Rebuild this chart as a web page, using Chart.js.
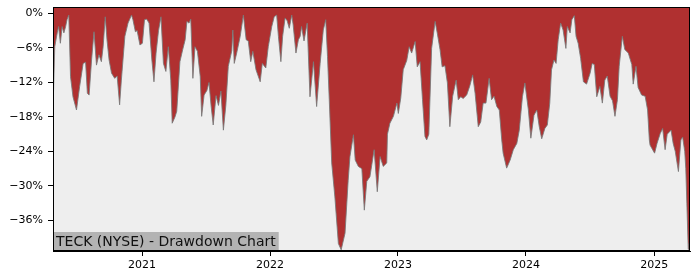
<!DOCTYPE html>
<html>
<head>
<meta charset="utf-8">
<script src="https://cdn.jsdelivr.net/npm/chart.js@4"></script>
<style>
  html, body { margin: 0; padding: 0; background: #fff; }
  #wrap { width: 700px; height: 280px; }
</style>
</head>
<body>
<div id="wrap"><canvas id="ddChart" width="700" height="280"></canvas></div>
<script>
// Drawdown data
const dates = [
  "2020-04-22","2020-04-27","2020-05-04","2020-05-08","2020-05-13","2020-05-18","2020-05-23","2020-05-28",
  "2020-06-01","2020-06-06","2020-06-11","2020-06-18","2020-06-28","2020-07-07","2020-07-17","2020-07-24",
  "2020-07-29","2020-08-03","2020-08-10","2020-08-17","2020-08-24","2020-08-31","2020-09-07","2020-09-12",
  "2020-09-18","2020-09-23","2020-09-29","2020-10-06","2020-10-15","2020-10-22","2020-10-29","2020-11-03",
  "2020-11-13","2020-11-22","2020-12-02","2020-12-06","2020-12-13","2020-12-18","2020-12-26",
  "2021-01-02","2021-01-08","2021-01-14","2021-01-21","2021-01-29","2021-02-04","2021-02-10","2021-02-17",
  "2021-02-24","2021-03-03","2021-03-10","2021-03-17","2021-03-24","2021-03-28","2021-04-05","2021-04-10",
  "2021-04-19","2021-04-27","2021-05-04","2021-05-09","2021-05-15","2021-05-20","2021-05-26","2021-06-01",
  "2021-06-08","2021-06-16","2021-06-20","2021-06-27","2021-07-05","2021-07-11","2021-07-17","2021-07-23",
  "2021-07-31","2021-08-07","2021-08-14","2021-08-21","2021-08-28","2021-09-04","2021-09-14","2021-09-17",
  "2021-09-21","2021-09-28","2021-10-08","2021-10-17","2021-10-25","2021-10-31","2021-11-07","2021-11-13",
  "2021-11-22","2021-12-04","2021-12-10","2021-12-20","2021-12-27",
  "2022-01-06","2022-01-13","2022-01-20","2022-01-25","2022-02-01","2022-02-06","2022-02-13","2022-02-19",
  "2022-02-25","2022-03-04","2022-03-08","2022-03-16","2022-03-23","2022-03-28","2022-04-01","2022-04-08",
  "2022-04-17","2022-04-25","2022-05-05","2022-05-14","2022-05-24","2022-06-02","2022-06-09","2022-06-14",
  "2022-06-19","2022-06-26","2022-07-05","2022-07-15","2022-07-23","2022-08-03","2022-08-12","2022-08-17",
  "2022-08-27","2022-09-01","2022-09-10","2022-09-20","2022-09-27","2022-10-04","2022-10-13","2022-10-25",
  "2022-11-03","2022-11-11","2022-11-20","2022-11-30","2022-12-02","2022-12-09","2022-12-19","2022-12-29",
  "2023-01-02","2023-01-09","2023-01-16","2023-01-26","2023-02-02","2023-02-09","2023-02-19","2023-02-25",
  "2023-03-05","2023-03-12","2023-03-19","2023-03-24","2023-03-30","2023-04-07","2023-04-17","2023-04-23",
  "2023-05-01","2023-05-07","2023-05-15","2023-05-22","2023-05-29","2023-06-06","2023-06-16","2023-06-22",
  "2023-06-29","2023-07-06","2023-07-16","2023-07-25","2023-08-02","2023-08-09","2023-08-18","2023-08-25",
  "2023-09-01","2023-09-09","2023-09-18","2023-09-25","2023-10-02","2023-10-10","2023-10-17","2023-10-24",
  "2023-10-28","2023-11-07","2023-11-17","2023-11-26","2023-12-06","2023-12-13","2023-12-22","2023-12-29",
  "2024-01-08","2024-01-15","2024-01-24","2024-02-01","2024-02-08","2024-02-15","2024-02-24","2024-03-02",
  "2024-03-09","2024-03-14","2024-03-21","2024-03-27","2024-04-02","2024-04-09","2024-04-16","2024-04-24",
  "2024-04-28","2024-05-06","2024-05-11","2024-05-18","2024-05-23","2024-05-29","2024-06-05","2024-06-13",
  "2024-06-22","2024-07-02","2024-07-08","2024-07-14","2024-07-21","2024-07-30","2024-08-06","2024-08-13",
  "2024-08-20","2024-08-28","2024-09-04","2024-09-11","2024-09-18","2024-09-23","2024-10-02","2024-10-09",
  "2024-10-19","2024-10-29","2024-11-02","2024-11-10","2024-11-16","2024-11-26","2024-12-06","2024-12-13",
  "2024-12-18","2024-12-20",
  "2025-01-02","2025-01-09","2025-01-18","2025-01-25","2025-02-01","2025-02-07","2025-02-18","2025-02-24",
  "2025-03-02","2025-03-11","2025-03-18","2025-03-23","2025-03-29","2025-04-01","2025-04-04","2025-04-08",
  "2025-04-10","2025-04-12"
];

const drawdown = [
  -16.8, -5.8, -3.4, -2.3, -5.2, -2.3, -3.4, -2.3,
  -1.1, -0.3, -11.0, -14.5, -16.8, -12.7, -8.7, -8.5,
  -13.9, -14.2, -8.1, -3.2, -9.0, -7.2, -8.4, -5.8,
  -0.6, -4.6, -8.1, -10.4, -11.3, -10.9, -15.9, -11.6,
  -4.0, -1.7, -0.3, -1.1, -3.2, -3.0, -5.5,
  -5.2, -1.1, -1.0, -1.7, -8.1, -11.9, -6.9, -3.0,
  -0.6, -8.7, -10.1, -5.8, -11.6, -19.1, -18.0, -17.0,
  -8.4, -6.3, -4.6, -1.4, -1.7, -1.0, -11.3, -5.8,
  -6.6, -11.0, -17.9, -14.2, -13.4, -12.0, -16.1, -19.4,
  -14.3, -16.0, -13.5, -20.3, -16.0, -9.2, -6.5, -2.9,
  -8.7, -6.9, -4.0, -0.3, -4.6, -4.8, -8.4, -6.6,
  -9.8, -11.9, -8.7, -9.5, -5.8,
  -2.3, -0.6, -0.3, -4.0, -8.4, -4.0, -0.8, -1.3,
  -2.6, -0.3, -2.0, -6.9, -4.6, -4.0, -2.3, -4.8,
  -1.7, -14.5, -8.4, -16.2, -8.7, -2.9, -1.1, -7.5,
  -15.0, -26.0, -31.9, -40.0, -41.1, -38.2, -29.0, -24.9,
  -21.1, -25.5, -26.6, -27.0, -34.2, -29.2, -28.4, -23.7,
  -31.0, -24.9, -26.6, -26.0, -21.0, -19.1, -17.9, -15.6,
  -17.4, -14.7, -9.8, -8.2, -5.8, -6.9, -4.9, -9.3,
  -8.4, -15.0, -21.4, -22.0, -21.0, -6.1, -1.4, -3.4,
  -6.3, -9.3, -9.1, -12.1, -19.7, -14.4, -11.6, -15.0,
  -14.5, -14.8, -14.2, -12.6, -10.7, -13.9, -19.7, -18.9,
  -15.6, -15.6, -11.3, -15.0, -14.4, -16.2, -16.8, -22.0,
  -24.3, -26.9, -25.5, -23.7, -22.6, -20.3, -14.5, -12.1,
  -16.8, -21.7, -17.7, -16.8, -19.7, -21.8, -20.0, -19.4,
  -15.6, -9.8, -8.1, -8.7, -4.6, -1.7, -2.9, -6.1,
  -2.3, -3.4, -1.1, -0.4, -4.0, -5.2, -7.8, -11.9,
  -12.3, -10.4, -8.7, -8.9, -14.5, -12.7, -15.6, -11.6,
  -10.9, -14.4, -15.2, -17.9, -15.0, -9.2, -4.0, -6.3,
  -6.9, -8.9, -12.3, -9.2, -12.9, -14.2, -14.4, -16.8,
  -22.0, -22.9,
  -24.3, -22.6, -20.9, -20.0, -23.7, -21.0, -20.3, -22.6,
  -24.0, -27.5, -22.0, -21.5, -24.0, -27.0, -33.0, -41.0,
  -40.0, -40.6
];

const yearTicks = [2021, 2022, 2023, 2024, 2025];
const pctTicks = [-36, -30, -24, -18, -12, -6, 0];
const titleText = "TECK (NYSE) - Drawdown Chart";

function toTime(s) {
  const p = s.split("-").map(Number);
  return Date.UTC(p[0], p[1] - 1, p[2]);
}

const points = dates.map((d, i) => ({ x: toTime(d), y: drawdown[i] }));

// plot background + frame + title box
const decorPlugin = {
  id: "decor",
  beforeDatasetsDraw(chart) {
    const { ctx, chartArea: a } = chart;
    ctx.save();
    ctx.fillStyle = "#eeeeee";
    ctx.fillRect(a.left, a.top, a.right - a.left, a.bottom - a.top);
    ctx.restore();
  },
  afterDraw(chart) {
    const { ctx, chartArea: a } = chart;
    ctx.save();
    ctx.font = "14px 'DejaVu Sans'";
    const w = ctx.measureText(titleText).width;
    ctx.fillStyle = "#b3b3b3";
    ctx.fillRect(a.left, a.bottom - 19, w + 6, 19);
    ctx.fillStyle = "#111";
    ctx.textBaseline = "middle";
    ctx.fillText(titleText, a.left + 3, a.bottom - 9);
    ctx.strokeStyle = "#000";
    ctx.lineWidth = 1;
    ctx.strokeRect(a.left + 0.5, a.top + 0.5, a.right - a.left - 1, a.bottom - a.top - 1);
    ctx.restore();
  },
};

new Chart(document.getElementById("ddChart"), {
  type: "line",
  data: {
    datasets: [
      {
        data: points,
        borderColor: "rgba(120, 120, 120, 0.85)",
        borderWidth: 1,
        backgroundColor: "#b03030",
        fill: "end",
        pointRadius: 0,
        tension: 0,
      },
    ],
  },
  options: {
    responsive: false,
    animation: false,
    layout: { padding: { left: 0, top: 7, right: 10, bottom: 0 } },
    plugins: { legend: { display: false }, tooltip: { enabled: false } },
    scales: {
      x: {
        type: "linear",
        min: Date.UTC(2020, 3, 22),
        max: Date.UTC(2025, 3, 13),
        afterBuildTicks: (scale) => {
          scale.ticks = yearTicks.map((y) => ({ value: Date.UTC(y, 0, 1) }));
        },
        afterFit: (scale) => {
          scale.height = 29;
          scale.paddingLeft = 0;
          scale.paddingRight = 0;
        },
        ticks: {
          autoSkip: false,
          maxRotation: 0,
          padding: 3,
          color: "#000",
          font: { family: "DejaVu Sans", size: 11 },
          callback: (v) => new Date(v).getUTCFullYear(),
        },
        grid: { drawOnChartArea: false, tickLength: 5, color: "#000" },
        border: { display: true, color: "#000", width: 1 },
      },
      y: {
        min: -41.3,
        max: 1.1,
        afterBuildTicks: (scale) => {
          scale.ticks = pctTicks.map((v) => ({ value: v }));
        },
        afterFit: (scale) => {
          scale.width = 53;
          scale.paddingTop = 0;
          scale.paddingBottom = 0;
        },
        ticks: {
          autoSkip: false,
          padding: 5,
          color: "#000",
          font: { family: "DejaVu Sans", size: 11 },
          callback: (v) => (v < 0 ? "\u2212" : "") + Math.abs(v) + "%",
        },
        grid: { drawOnChartArea: false, tickLength: 5, color: "#000" },
        border: { display: true, color: "#000", width: 1 },
      },
    },
  },
  plugins: [decorPlugin],
});
</script>
</body>
</html>
